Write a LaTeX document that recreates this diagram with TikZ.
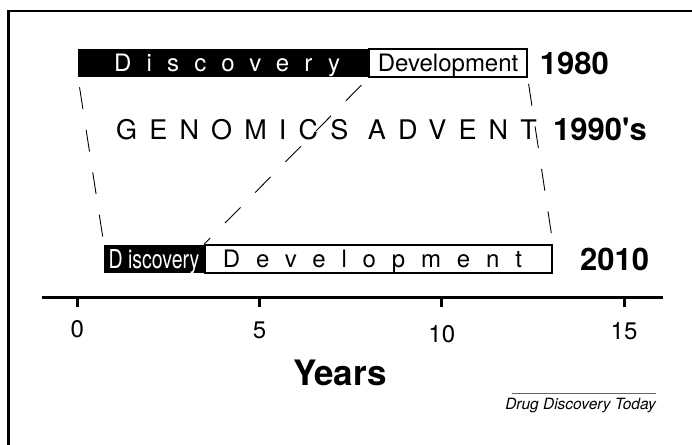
\documentclass[tikz,border=0pt]{standalone}
\usepackage{fontspec}
\usepackage{graphicx}
\setmainfont{TeX Gyre Heros}
\usetikzlibrary{positioning}
\begin{document}
\begin{tikzpicture}[x=1pt,y=-1pt]
	\tikzstyle{disc} = [fill=black, text=white, rectangle, inner sep=0pt, minimum height=28pt, text height=17pt, text depth=0pt]
	\tikzstyle{devel} = [draw, line width=1.6pt, fill=white, rectangle, inner sep=0pt, minimum height=28pt, text height=17pt, text depth=0pt]
	\tikzstyle{spaced} = [font={\fontsize{24}{24}\selectfont\addfontfeature{LetterSpace=63}}]
	\tikzstyle{year} = [font={\fontsize{31}{31}\selectfont\bfseries}, inner sep=0pt]
	\tikzstyle{trail} = [dash pattern=on 22pt off 21pt, line width=0.9pt]
	\tikzstyle{axisline} = [line width=3pt]
	\useasboundingbox (0,0) rectangle (692,444);
	\clip (0,0) rectangle (692,444);
	\draw[line width=2.2pt] (8.5,11) rectangle (720,470);
	\node[disc, spaced, minimum width=290pt, anchor=north west] (d1) at (78,49) {\kern8pt Discovery};
	\node[devel, minimum width=157.7pt, font={\fontsize{24}{24}\selectfont}, right=0pt of d1] (v1) {Development};
	\node[disc, minimum width=99.5pt, text height=18.5pt, font={\fontsize{26}{26}\selectfont}, anchor=north west] (d2) at (104,245) {\scalebox{0.75}[1]{D iscovery}};
	\node[devel, spaced, font={\fontsize{24}{24}\selectfont\addfontfeature{LetterSpace=66}}, minimum width=347.5pt, right=0pt of d2] (v2) {Development\kern12pt};
	\node[font={\fontsize{27}{27}\selectfont\addfontfeature{LetterSpace=45}}, inner sep=0pt, anchor=base west] (g1) at (116,139) {GENOMICS ADVENT};
	\node[year, right=12pt of v1] (y1) {1980};
	\node[year, anchor=base west] (y2) at (553,140) {1990\textquotesingle s};
	\node[year, right=27pt of v2] (y3) {2010};
	\draw[trail, dash phase=33pt] (d1.south west) -- (d2.north west);
	\draw[trail, dash phase=33pt] (v1.south west) -- (v2.north west);
	\draw[trail, dash phase=37pt] (v1.south east) -- (v2.north east);
	\draw[axisline] (41.7,297.3) -- (662.7,297.3);
	\foreach \t/\b in {0/337,5/338,10/342,15/339} {
		\draw[axisline] (77.3+36.45*\t,297.3) -- (77.3+36.45*\t,307);
		\node[font={\fontsize{24}{24}\selectfont}, inner sep=0pt, anchor=base] (n\t) at (77.3+36.45*\t,\b) {\t};
	}
	\node[font={\fontsize{35}{35}\selectfont\bfseries}, inner sep=0pt, anchor=base] (yrs) at (340,385) {Years};
	\node[font={\fontsize{15.5}{16}\selectfont\itshape}, inner sep=0pt, anchor=base east] (jn) at (656,409.5) {Drug Discovery Today};
	\draw[line width=1.2pt, black!60] ([xshift=7pt,yshift=4.3pt]jn.north west) -- ([yshift=4.3pt]jn.north east);
\end{tikzpicture}
\end{document}
